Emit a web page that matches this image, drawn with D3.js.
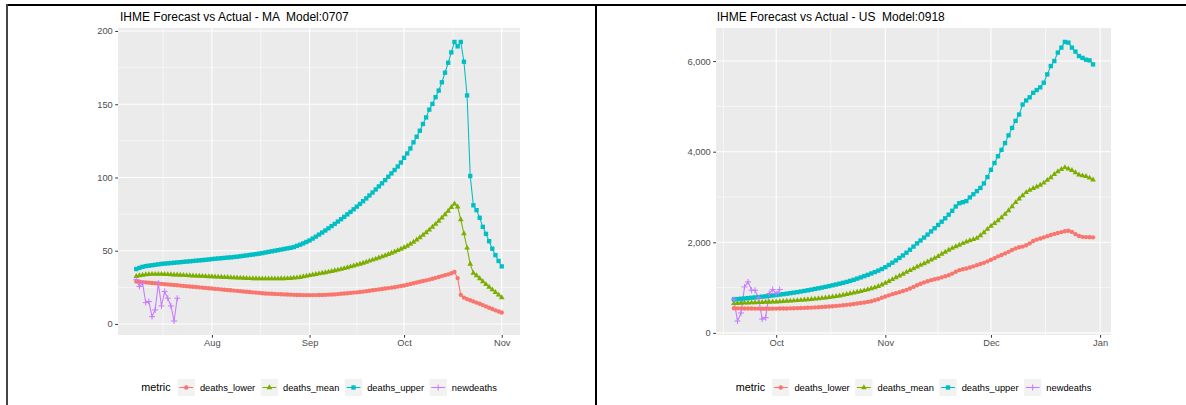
<!DOCTYPE html>
<html>
<head>
<meta charset="utf-8">
<script src="https://cdn.jsdelivr.net/npm/d3@7"></script>
<style>
    body { margin: 0; background: #fff; }
    text { font-family: "Liberation Sans", Arial, sans-serif; }
</style>
</head>
<body>
<svg id="chart" width="1186" height="405"></svg>
<script>
// series order / colours (ggplot defaults)
var metrics = ['deaths_lower', 'deaths_mean', 'deaths_upper', 'newdeaths'];
var metricColors = ['#F8766D', '#7CAE00', '#00BFC4', '#C77CFF'];

// ---- MA, model 0707 (daily from Jul 8) ----
var maTitle = 'IHME Forecast vs Actual - MA  Model:0707';
var maStart = '2020-07-08';
var maLower = [29.0, 28.8, 28.6, 28.4, 28.2, 28.0, 27.8, 27.6, 27.4, 27.2,
    27.0, 26.8, 26.6, 26.4, 26.2, 26.0, 25.8, 25.6, 25.4, 25.2,
    25.0, 24.8, 24.6, 24.4, 24.2, 24.0, 23.8, 23.6, 23.4, 23.2,
    23.0, 22.8, 22.6, 22.4, 22.2, 22.0, 21.8, 21.6, 21.4, 21.2,
    21.0, 20.8, 20.7, 20.6, 20.5, 20.4, 20.3, 20.2, 20.1, 20.0,
    19.9, 19.8, 19.8, 19.7, 19.7, 19.7, 19.7, 19.7, 19.8, 19.8,
    19.9, 20.0, 20.1, 20.2, 20.4, 20.6, 20.8, 21.0, 21.2, 21.4,
    21.6, 21.8, 22.1, 22.4, 22.7, 23.0, 23.3, 23.6, 23.9, 24.2,
    24.5, 24.8, 25.1, 25.5, 25.9,
    26.3, 26.8, 27.3, 27.8, 28.3, 28.8, 29.3, 29.8, 30.3, 30.9, 31.5, 32.1, 32.7, 33.3, 33.9, 34.6, 35.5,
    31.3, 19.9, 18.0, 17.0, 16.2, 15.4, 14.6, 13.8, 12.9, 12.0, 11.1, 10.2, 9.3, 8.5, 7.8];
var maMean = [32.5, 33.0, 33.4, 33.7, 33.9, 34.0, 34.0, 34.0, 34.0, 33.9,
    33.8, 33.7, 33.6, 33.5, 33.4, 33.3, 33.1, 33.0, 32.9, 32.8,
    32.7, 32.6, 32.5, 32.4, 32.3, 32.2, 32.1, 32.0, 31.9, 31.8,
    31.7, 31.6, 31.5, 31.4, 31.3, 31.2, 31.1, 31.0, 31.0, 30.9,
    30.9, 30.9, 30.9, 30.9, 30.9, 30.9, 31.0, 31.0, 31.1, 31.2,
    31.4, 31.6, 31.9, 32.3, 32.7, 33.1, 33.5, 33.9, 34.3, 34.7,
    35.1, 35.5, 35.9, 36.4, 36.9, 37.4, 37.9, 38.5, 39.1, 39.7,
    40.3, 40.9, 41.6, 42.3, 43.0, 43.7, 44.4, 45.1, 45.9, 46.7,
    47.5, 48.4, 49.3, 50.2, 51.1,
    52.1, 53.2, 54.5, 55.9, 57.4, 59.0, 60.7, 62.4, 64.2, 66.1, 68.1, 70.2, 72.4, 74.7, 77.1, 79.6, 82.0,
    80.0, 71.3, 61.7, 51.9, 40.9, 34.8, 33.0, 31.0, 29.0, 27.0, 25.2, 23.4, 21.6, 19.8, 18.0];
var maUpper = [37.5, 38.3, 39.0, 39.5, 39.8, 40.1, 40.4, 40.7, 41.0, 41.2,
    41.4, 41.6, 41.8, 42.0, 42.2, 42.4, 42.6, 42.8, 43.0, 43.2,
    43.4, 43.6, 43.8, 44.0, 44.3, 44.5, 44.7, 44.9, 45.1, 45.3,
    45.5, 45.7, 45.9, 46.2, 46.5, 46.8, 47.1, 47.4, 47.7, 48.0,
    48.4, 48.8, 49.2, 49.6, 50.0, 50.4, 50.8, 51.2, 51.6, 52.0,
    52.5, 53.3, 54.1, 55.0, 56.0,
    57.0, 58.3, 59.6, 61.0, 62.4, 63.8, 65.3, 66.8, 68.3, 69.9,
    71.5, 73.1, 74.8, 76.5, 78.3, 80.1, 81.9, 83.8, 85.7, 87.7,
    89.7, 91.8, 93.9, 96.0, 98.2, 100.5, 102.8, 105.1,
    107.5, 110.2, 113.4, 116.4, 119.8, 124.0, 127.8, 131.9, 136.5, 141.0, 146.3, 150.2, 154.8, 159.3, 165.0, 171.5, 178.3, 185.4, 192.5,
    189.5, 192.5, 179, 156, 101, 81, 77.7, 72.5, 66.3, 61.5, 56.5, 51.4, 47, 43, 39.3];
var maNew = [30.2, 25.6, 27.9, 14.6, 15.3, 5, 9.6, 27.9, 12.3, 22.2, 17.6, 12.3, 2, 17.6];
var maYTicks = [0, 50, 100, 150, 200];

// ---- US, model 0918 (daily from Sep 19) ----
var usTitle = 'IHME Forecast vs Actual - US  Model:0918';
var usStart = '2020-09-19';
var usLower = [545, 543, 541, 540, 539, 538, 537, 537, 536, 536, 536, 536, 537,
    538, 539, 540, 542, 544, 546, 549, 552, 555, 559, 563, 567, 572, 577, 583, 589, 596,
    603, 611, 619, 628, 638, 649, 660, 672, 685, 700, 720, 745, 775, 805,
    830, 855, 878, 900, 925, 950, 980, 1015, 1053,
    1085, 1115, 1140, 1165, 1185, 1201,
    1225, 1250, 1274, 1310, 1350, 1385, 1405, 1422,
    1445, 1470, 1496, 1520, 1547, 1580, 1615,
    1650, 1690, 1720, 1755, 1790, 1830, 1865, 1890,
    1905, 1935, 1975, 2030, 2060, 2085, 2110, 2135, 2160,
    2185, 2205, 2225, 2245,
    2256, 2230, 2180, 2138, 2120, 2115, 2112, 2109];
var usMean = [650, 655, 658, 661, 664, 667, 670, 673, 676, 679, 682, 685, 688,
    692, 696, 701, 706, 711, 717, 723, 729, 736, 743, 750, 758, 766, 775, 785, 795, 806,
    818, 834, 851, 868,
    884, 901, 919, 938, 958, 979, 1001, 1027, 1062, 1100,
    1140, 1180, 1220, 1262, 1300, 1340, 1378, 1418, 1458,
    1495, 1532, 1570, 1610, 1650, 1690,
    1740, 1785, 1828, 1870, 1905, 1939, 1975, 2012,
    2040, 2063, 2090, 2150, 2215, 2290, 2360,
    2420, 2480, 2545, 2620, 2700, 2790, 2880, 2960,
    3030, 3100, 3150, 3190, 3225, 3265, 3310, 3370, 3430,
    3500, 3560, 3610, 3652,
    3620, 3590, 3540, 3490, 3470, 3455, 3420, 3379];
var usUpper = [740, 747, 754, 761, 768, 776, 784, 792, 800, 808, 817, 826, 835,
    845, 855, 866, 877, 889, 901, 914, 927, 941, 955, 970, 985, 1001, 1017, 1034, 1051, 1069, 1087, 1106, 1126, 1148,
    1172, 1198, 1225, 1253, 1282, 1312, 1343, 1375, 1410, 1450,
    1500, 1550, 1600, 1655, 1710, 1770, 1835, 1905, 1976,
    2040, 2105, 2170, 2240, 2310, 2382,
    2455, 2530, 2610, 2695, 2790, 2862, 2885, 2910, 2990, 3060, 3130, 3200, 3300, 3440, 3600, 3750,
    3900, 4040, 4190, 4360, 4525, 4680, 4820, 5040, 5130, 5200, 5300, 5360, 5420, 5522, 5706, 5890,
    6000, 6187, 6297, 6422, 6408, 6297, 6209, 6111, 6070, 6030, 6016, 5927];
var usNew = [735, 262, 440, 1015, 1126, 942, 942, 771, 306, 336, 868, 957, 868, 957];
var usYTicks = [0, 2000, 4000, 6000];

var svg = d3.select('#chart');

// frame
svg.append('rect').attr('x', 0).attr('y', 0).attr('width', 1186).attr('height', 405).attr('fill', '#fff');
svg.append('line').attr('x1', 6).attr('x2', 1186).attr('y1', 5).attr('y2', 5).attr('stroke', '#000').attr('stroke-width', 2);
svg.append('line').attr('x1', 7).attr('x2', 7).attr('y1', 4).attr('y2', 405).attr('stroke', '#444').attr('stroke-width', 2);
svg.append('line').attr('x1', 596).attr('x2', 596).attr('y1', 4).attr('y2', 405).attr('stroke', '#000').attr('stroke-width', 2);

function expand(ext) {
    var pad = (ext[1] - ext[0]) * 0.05;
    return [ext[0] - pad, ext[1] + pad];
}

function drawChart(cfg) {
    var parse = d3.utcParse('%Y-%m-%d');
    var start = parse(cfg.start);
    var seriesList = cfg.series.map(function (vals, k) {
        return {
            name: metrics[k], color: metricColors[k],
            points: vals.map(function (v, i) { return {date: d3.utcDay.offset(start, i), v: v}; })
        };
    });
    var allPts = d3.merge(seriesList.map(function (s) { return s.points; }));

    var x = d3.scaleUtc()
        .domain(expand(d3.extent(allPts, function (d) { return +d.date; })).map(function (t) { return new Date(t); }))
        .range([cfg.left, cfg.right]);
    var y = d3.scaleLinear()
        .domain(expand(d3.extent(allPts, function (d) { return d.v; })))
        .range([cfg.bottom, cfg.top]);

    var g = svg.append('g');
    g.append('rect')
        .attr('x', cfg.left).attr('y', cfg.top)
        .attr('width', cfg.right - cfg.left).attr('height', cfg.bottom - cfg.top)
        .attr('fill', '#EBEBEB');

    // grid
    var yt = cfg.yTicks;
    var yMinor = [];
    for (var i = 0; i < yt.length - 1; i++) yMinor.push((yt[i] + yt[i + 1]) / 2);
    yMinor.push(yt[yt.length - 1] + (yt[1] - yt[0]) / 2);
    yMinor = yMinor.filter(function (v) { return y(v) >= cfg.top && y(v) <= cfg.bottom; });

    var xd = x.domain();
    var months = d3.utcMonth.range(d3.utcMonth.offset(d3.utcMonth.floor(xd[0]), 0), d3.utcMonth.offset(xd[1], 1));
    var xMajor = months.filter(function (m) { return m >= xd[0] && m <= xd[1]; });
    var xMinor = [];
    for (var j = 0; j < months.length - 1; j++) {
        var mid = new Date((+months[j] + +months[j + 1]) / 2);
        if (mid >= xd[0] && mid <= xd[1]) xMinor.push(mid);
    }

    g.selectAll('.yminor').data(yMinor).enter().append('line')
        .attr('x1', cfg.left).attr('x2', cfg.right)
        .attr('y1', function (d) { return y(d); }).attr('y2', function (d) { return y(d); })
        .attr('stroke', '#fff').attr('stroke-width', 0.55);
    g.selectAll('.xminor').data(xMinor).enter().append('line')
        .attr('y1', cfg.top).attr('y2', cfg.bottom)
        .attr('x1', function (d) { return x(d); }).attr('x2', function (d) { return x(d); })
        .attr('stroke', '#fff').attr('stroke-width', 0.55);
    g.selectAll('.ymajor').data(yt).enter().append('line')
        .attr('x1', cfg.left).attr('x2', cfg.right)
        .attr('y1', function (d) { return y(d); }).attr('y2', function (d) { return y(d); })
        .attr('stroke', '#fff').attr('stroke-width', 1.1);
    g.selectAll('.xmajor').data(xMajor).enter().append('line')
        .attr('y1', cfg.top).attr('y2', cfg.bottom)
        .attr('x1', function (d) { return x(d); }).attr('x2', function (d) { return x(d); })
        .attr('stroke', '#fff').attr('stroke-width', 1.1);

    // axes
    var yAxis = d3.axisLeft(y).tickValues(yt).tickSize(2.75).tickPadding(2.5).tickFormat(cfg.yFormat);
    var ya = g.append('g').attr('transform', 'translate(' + cfg.left + ',0)').call(yAxis);
    var xAxis = d3.axisBottom(x).tickValues(xMajor).tickSize(2.75).tickPadding(2).tickFormat(d3.utcFormat('%b'));
    var xa = g.append('g').attr('transform', 'translate(0,' + cfg.bottom + ')').call(xAxis);
    [ya, xa].forEach(function (a) {
        a.select('.domain').remove();
        a.selectAll('line').attr('stroke', '#333').attr('stroke-width', 1);
        a.selectAll('text').attr('fill', '#4D4D4D').style('font-size', '9.3px')
            .style('font-family', '"Liberation Sans", Arial, sans-serif');
    });

    // lines
    var line = d3.line().x(function (d) { return x(d.date); }).y(function (d) { return y(d.v); });
    g.selectAll('.series').data(seriesList).enter().append('path')
        .attr('d', function (s) { return line(s.points); })
        .attr('fill', 'none').attr('stroke', function (s) { return s.color; }).attr('stroke-width', 1.07);

    // points
    seriesList.forEach(function (s, k) {
        g.append('g').selectAll('path').data(s.points).enter().append('path')
            .attr('transform', function (d) { return 'translate(' + x(d.date) + ',' + y(d.v) + ')'; })
            .attr('d', shapePath(k))
            .attr('fill', k === 3 ? 'none' : s.color)
            .attr('stroke', k === 3 ? s.color : 'none')
            .attr('stroke-width', 1);
    });

    // title
    svg.append('text').attr('x', cfg.titleX).attr('y', 20.7)
        .style('font-size', '12px').style('white-space', 'pre').attr('fill', '#000')
        .text(cfg.title);

    // legend
    var lg = svg.append('g');
    var ly = 387.5;
    var lt = lg.append('text').attr('y', ly + 3.8).style('font-size', '10.8px').attr('fill', '#000').text('metric');
    var cursor = lt.node().getComputedTextLength() + 7;
    metrics.forEach(function (m, k) {
        var key = lg.append('g').attr('transform', 'translate(' + cursor + ',' + (ly - 8.65) + ')');
        key.append('rect').attr('width', 17.3).attr('height', 17.3).attr('fill', '#F2F2F2');
        key.append('line').attr('x1', 1.7).attr('x2', 15.6).attr('y1', 8.65).attr('y2', 8.65)
            .attr('stroke', metricColors[k]).attr('stroke-width', 1.07);
        key.append('path').attr('transform', 'translate(8.65,8.65)').attr('d', shapePath(k))
            .attr('fill', k === 3 ? 'none' : metricColors[k])
            .attr('stroke', k === 3 ? metricColors[k] : 'none').attr('stroke-width', 1);
        var t = lg.append('text').attr('x', cursor + 17.3 + 5).attr('y', ly + 3.3)
            .style('font-size', '9.3px').attr('fill', '#000').text(m);
        cursor += 17.3 + 5 + t.node().getComputedTextLength() + 5.5;
    });
    var total = cursor - 5.5;
    lg.attr('transform', 'translate(' + ((cfg.left + cfg.right) / 2 - total / 2) + ',0)');
}

function shapePath(k) {
    if (k === 0) return d3.symbol(d3.symbolCircle, 15)();
    if (k === 1) return d3.symbol(d3.symbolTriangle, 14)();
    if (k === 2) return d3.symbol(d3.symbolSquare, 19)();
    return 'M-3,0H3M0,-3V3';
}

drawChart({
    title: maTitle, titleX: 120, start: maStart,
    series: [maLower, maMean, maUpper, maNew], yTicks: maYTicks, yFormat: d3.format('d'),
    left: 118, right: 520, top: 28, bottom: 335
});
drawChart({
    title: usTitle, titleX: 716.7, start: usStart,
    series: [usLower, usMean, usUpper, usNew], yTicks: usYTicks, yFormat: d3.format(','),
    left: 716, right: 1111, top: 28, bottom: 335
});
</script>
</body>
</html>
